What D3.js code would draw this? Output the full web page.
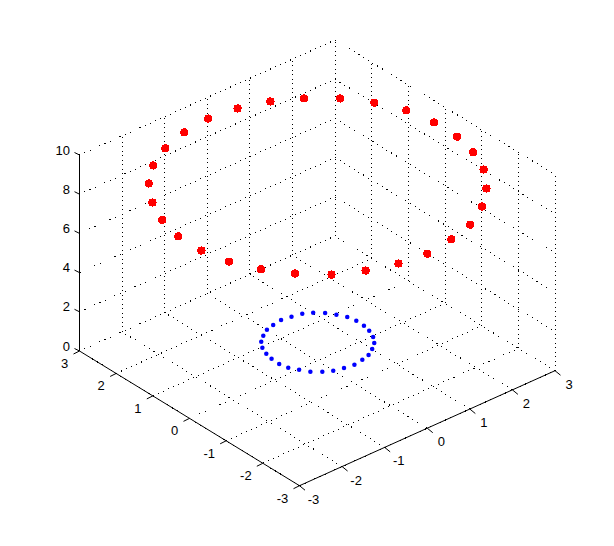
<!DOCTYPE html>
<html>
<head>
<meta charset="utf-8">
<script src="https://cdn.jsdelivr.net/npm/d3@7"></script>
<style>
html,body{margin:0;padding:0;background:#fff;overflow:hidden}
svg{display:block}
text{font-family:"Liberation Sans",Arial,sans-serif;font-size:13px;fill:#000}
</style>
</head>
<body>
<svg id="c" width="614" height="546"></svg>
<script>
const xyTicks = [-3,-2,-1,0,1,2,3];
const zTicks = [0,2,4,6,8,10];
const redX = [2.25,1.76,1.24,0.64,0.02,-0.61,-1.22,-1.76,-2.22,-2.59,-2.84,-2.99,-2.99,-2.86,-2.60,-2.23,-1.76,-1.21,-0.61,0.00,0.64,1.22,1.78,2.24,2.62,2.86,2.99,2.99,2.88,2.62];
const redY = [2.00,2.42,2.73,2.93,3.01,2.93,2.74,2.44,2.03,1.50,0.94,0.33,-0.30,-0.90,-1.47,-1.97,-2.42,-2.71,-2.91,-2.99,-2.90,-2.74,-2.41,-2.00,-1.48,-0.92,-0.33,0.30,0.93,1.50];
const redZ = 8.92;
const blueX = [0.42,0.21,0.00,-0.22,-0.41,-0.59,-0.75,-0.87,-0.95,-0.99,-1.00,-0.96,-0.86,-0.75,-0.59,-0.42,-0.21,0.00,0.22,0.41,0.59,0.75,0.87,0.95,0.99,1.00,0.96,0.86,0.75,0.59];
const blueY = [0.91,0.96,1.00,0.96,0.91,0.80,0.67,0.50,0.30,0.11,-0.11,-0.31,-0.49,-0.67,-0.81,-0.91,-0.96,-1.00,-0.96,-0.91,-0.80,-0.67,-0.50,-0.30,-0.11,0.11,0.31,0.49,0.67,0.81];
const blueZ = 0.97;

// oblique projection of the box, expressed as linear scales
const scaleXpx = d3.scaleLinear().domain([-3,3]).range([0,255.5]);
const scaleXpy = d3.scaleLinear().domain([-3,3]).range([0,-115]);
const scaleYpx = d3.scaleLinear().domain([-3,3]).range([0,-220]);
const scaleYpy = d3.scaleLinear().domain([-3,3]).range([0,-134.7]);
const scaleZ = d3.scaleLinear().domain([0,10]).range([0,-196]);
const ox = 299.5, oy = 485.7;
const P = (x,y,z) => [ox + scaleXpx(x) + scaleYpx(y), oy + scaleXpy(x) + scaleYpy(y) + scaleZ(z)];

const svg = d3.select('#c');
svg.append('rect').attr('width',614).attr('height',546).attr('fill','#fff');

const seg = (g,a,b) => g.append('line')
  .attr('x1',a[0]).attr('y1',a[1]).attr('x2',b[0]).attr('y2',b[1])
  .attr('stroke','#000').attr('stroke-width',1);

// dotted grid: diagonal rules and vertical rules have different dot pitch
const diag = svg.append('g').attr('stroke-dasharray','1 4.5').attr('shape-rendering','crispEdges');
const vert = svg.append('g').attr('stroke-dasharray','1 3.5').attr('shape-rendering','crispEdges');
xyTicks.forEach(t => {
  seg(diag,P(t,-3,0),P(t,3,0));   // floor
  seg(diag,P(-3,t,0),P(3,t,0));
  seg(vert,P(t,3,0),P(t,3,10));   // wall y = 3
  seg(vert,P(3,t,0),P(3,t,10));   // wall x = 3
});
zTicks.filter(z => z > 0).forEach(z => {
  seg(diag,P(-3,3,z),P(3,3,z));
  seg(diag,P(3,3,z),P(3,-3,z));
});

// axes
const axes = svg.append('g');
seg(axes,P(-3,3,0),P(-3,-3,0));
seg(axes,P(-3,-3,0),P(3,-3,0));
seg(axes,P(-3,3,0),P(-3,3,10));
xyTicks.forEach(t => {
  const a = P(t,-3,0);
  seg(axes,a,[a[0]+5.5,a[1]+4.5]);
  const b = P(-3,t,0);
  seg(axes,b,[b[0]-6,b[1]+3]);
  axes.append('text').attr('x',a[0]+14).attr('y',a[1]+13.5)
    .attr('text-anchor','middle').attr('dominant-baseline','central').text(t);
  axes.append('text').attr('x',b[0]-15 - (t < 0 ? 2 : 0)).attr('y',b[1]+12.5)
    .attr('text-anchor','middle').attr('dominant-baseline','central').text(t);
});
zTicks.forEach(z => {
  const a = P(-3,3,z);
  seg(axes,a,[a[0]-5,a[1]-2.5]);
  axes.append('text').attr('x',a[0]-9.5).attr('y',a[1]-5)
    .attr('text-anchor','end').attr('dominant-baseline','central').text(z);
});

// markers
const marks = svg.append('g').attr('transform','translate(0.5,0.5)');
marks.append('g').selectAll('circle').data(d3.range(blueX.length)).join('circle')
  .attr('cx',i => P(blueX[i],blueY[i],blueZ)[0])
  .attr('cy',i => P(blueX[i],blueY[i],blueZ)[1])
  .attr('r',2.25).attr('fill','#0000ff');
marks.append('g').selectAll('circle').data(d3.range(redX.length)).join('circle')
  .attr('cx',i => P(redX[i],redY[i],redZ)[0])
  .attr('cy',i => P(redX[i],redY[i],redZ)[1])
  .attr('r',4.1).attr('fill','#ff0000').attr('shape-rendering','crispEdges');
</script>
</body>
</html>
